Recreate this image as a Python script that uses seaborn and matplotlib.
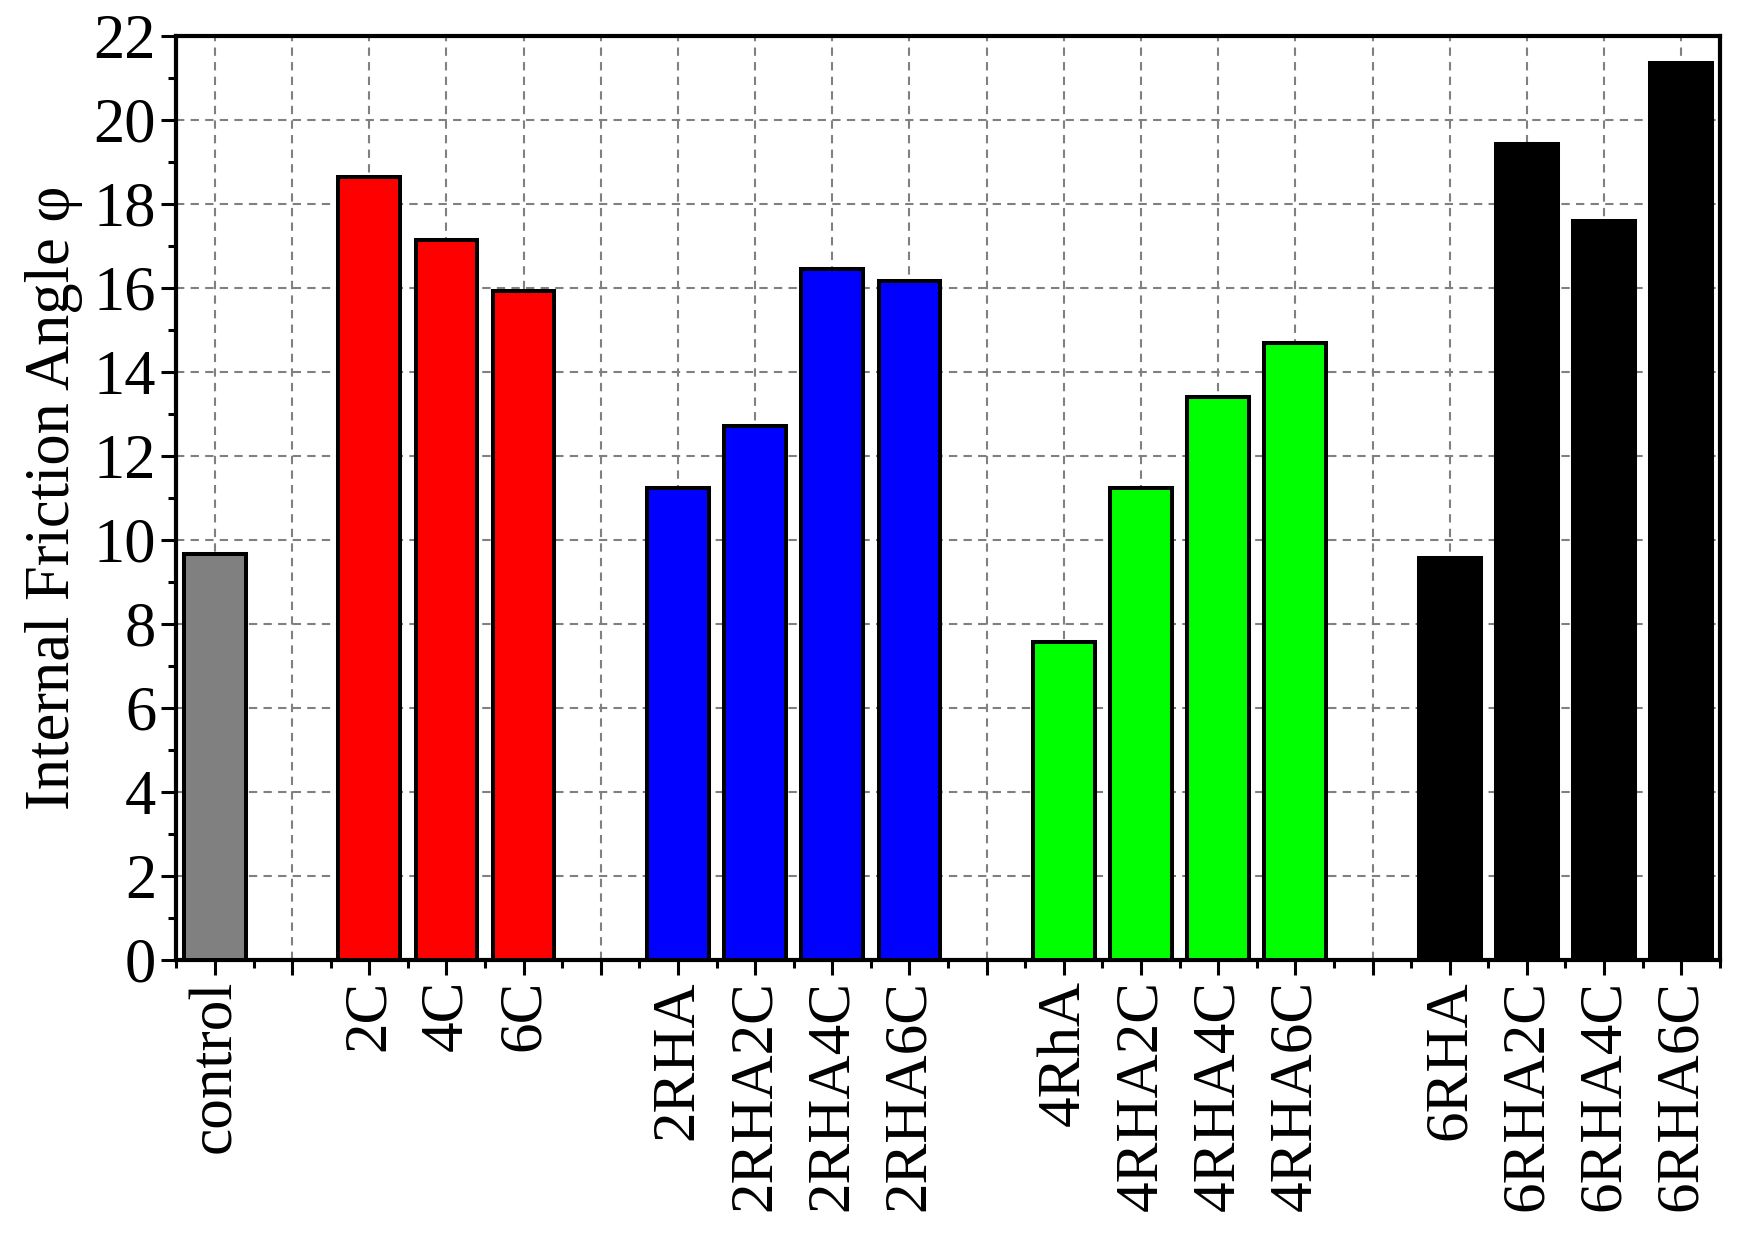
import numpy as np
import pandas as pd
import matplotlib
matplotlib.use("Agg")
import matplotlib.pyplot as plt
from matplotlib.ticker import MultipleLocator
import seaborn as sns

# slot names (gaps are blank slots between groups)
slots = ["control", "g1", "2C", "4C", "6C", "g2",
         "2RHA", "2RHA2C", "2RHA4C", "2RHA6C", "g3",
         "4RhA", "4RHA2C", "4RHA4C", "4RHA6C", "g4",
         "6RHA", "6RHA2C", "6RHA4C", "6RHA6C"]
angles = [9.67, np.nan, 18.63, 17.15, 15.93, np.nan,
          11.24, 12.70, 16.46, 16.17, np.nan,
          7.58, 11.24, 13.41, 14.68, np.nan,
          9.57, 19.43, 17.60, 21.36]
bar_colors = ["#808080", "white", "#ff0000", "#ff0000", "#ff0000", "white",
              "#0000ff", "#0000ff", "#0000ff", "#0000ff", "white",
              "#00ff00", "#00ff00", "#00ff00", "#00ff00", "white",
              "#000000", "#000000", "#000000", "#000000"]
tick_labels = [s if not s.startswith("g") else "" for s in slots]

df = pd.DataFrame({"sample": slots, "angle": angles})

sns.set_style("white")
plt.rcParams['font.family'] = ['Liberation Serif', 'DejaVu Serif']
for key in ["text.color", "axes.labelcolor", "xtick.color", "ytick.color"]:
    plt.rcParams[key] = "black"

fig, ax = plt.subplots(figsize=(17.46, 12.37), dpi=100)
fig.subplots_adjust(left=0.101, right=0.985, top=0.971, bottom=0.224)

sns.barplot(data=df, x="sample", y="angle", hue="sample", order=slots,
            palette=dict(zip(slots, bar_colors)), legend=False, saturation=1,
            width=0.8, edgecolor="black", linewidth=2.9, ax=ax, zorder=3)

# hide the empty gap slots
for p in ax.patches:
    if not np.isfinite(p.get_height()) or p.get_height() == 0:
        p.set_visible(False)

ax.set_xlim(-0.5, len(slots) - 0.5)
ax.set_ylim(0, 22)
ax.yaxis.set_major_locator(MultipleLocator(2))
ax.yaxis.set_minor_locator(MultipleLocator(1))
ax.set_xticks(range(len(slots)))
ax.set_xticks(np.arange(-0.5, len(slots), 1.0), minor=True)
ax.set_xticklabels(tick_labels, rotation=90, fontsize=44)
ax.tick_params(axis="y", labelsize=45)
ax.tick_params(which="major", direction="out", length=11, width=2.2,
               bottom=True, left=True, top=False, right=False)
ax.tick_params(which="minor", direction="out", length=6, width=2.2,
               bottom=True, left=True, top=False, right=False)

ax.grid(True, which="major", color="#808080", linestyle=(0, (4, 3)),
        linewidth=1.5, zorder=0)
ax.set_axisbelow(True)
for sp in ax.spines.values():
    sp.set_linewidth(3)
    sp.set_color("black")

ax.set_xlabel("")
ax.set_ylabel("Internal Friction Angle φ", fontsize=45, labelpad=8)

fig.savefig("out.png", dpi=100)
